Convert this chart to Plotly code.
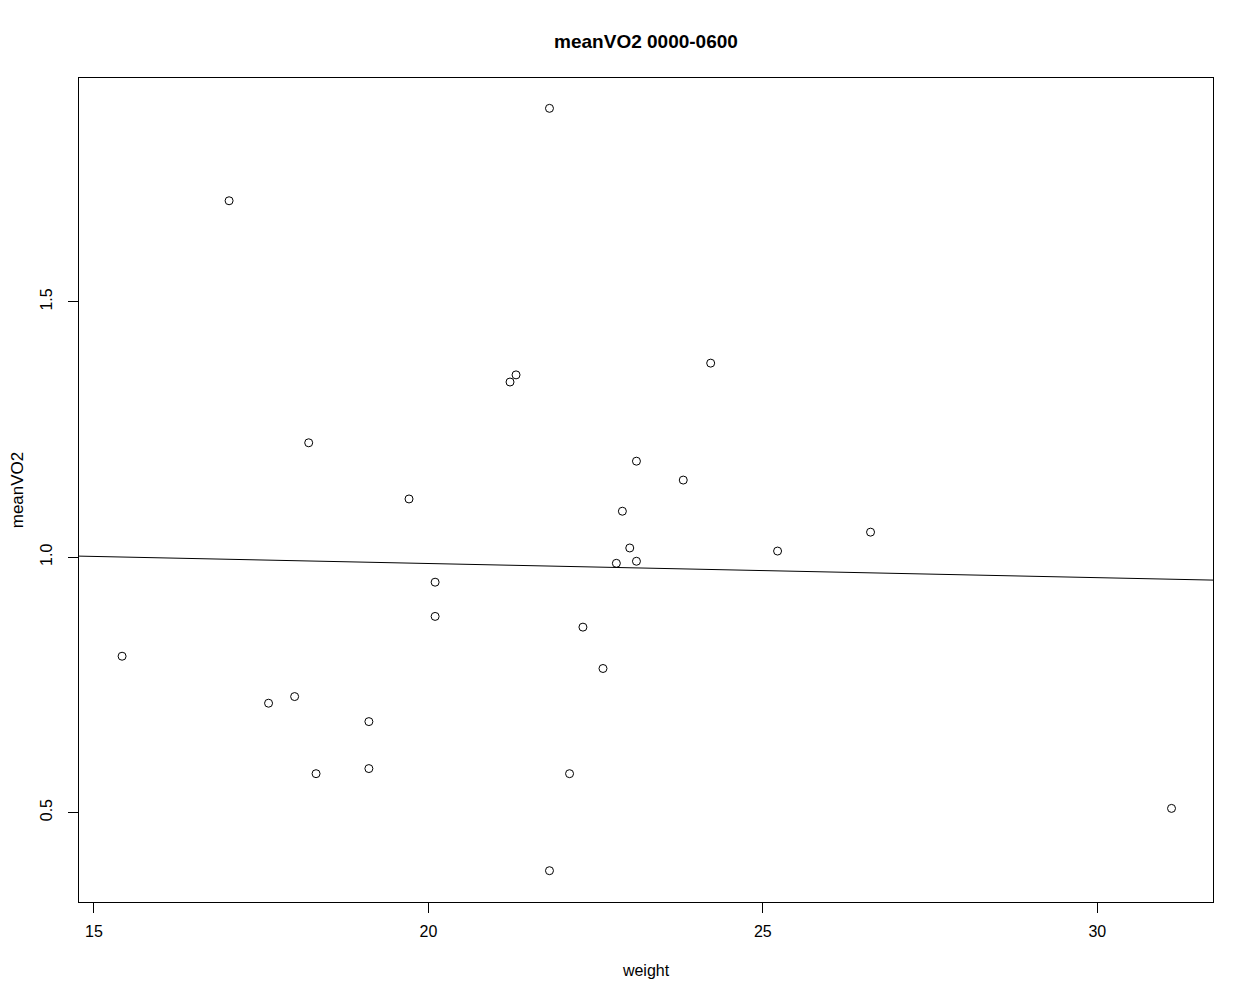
import plotly.graph_objects as go

weight = [15.42, 17.02, 17.61, 18.00, 18.21, 18.32, 19.11, 19.11, 19.71, 20.10,
          20.10, 21.22, 21.31, 21.81, 21.81, 22.11, 22.31, 22.61, 22.81, 22.90,
          23.01, 23.11, 23.11, 23.81, 24.22, 25.22, 26.61, 31.11]
meanVO2 = [0.806, 1.698, 0.714, 0.727, 1.224, 0.576, 0.678, 0.586, 1.114, 0.951,
           0.884, 1.343, 1.357, 1.879, 0.386, 0.576, 0.863, 0.782, 0.988, 1.090,
           1.018, 1.188, 0.992, 1.151, 1.380, 1.012, 1.049, 0.508]
fit_coef = [1.043, -0.00277]  # intercept, slope
x_ticks = [15, 20, 25, 30]
y_ticks = [0.5, 1.0, 1.5]

xr = [14.776, 31.73]
yr = [0.3247, 1.9384]

W, H = 1246, 992

fig = go.Figure()
fig.add_trace(go.Scatter(
    x=weight, y=meanVO2, mode="markers",
    marker=dict(symbol="circle-open", size=8, color="black", line=dict(width=1)),
    showlegend=False, hoverinfo="x+y"))
fig.add_trace(go.Scatter(
    x=xr, y=[fit_coef[0] + fit_coef[1] * v for v in xr], mode="lines",
    line=dict(color="black", width=1), showlegend=False, hoverinfo="skip"))

font = "Liberation Sans, Arial"
axis_common = dict(showgrid=False, zeroline=False, showline=True, mirror=True,
                   linecolor="black", linewidth=1, ticks="outside", ticklen=10,
                   tickcolor="black", tickwidth=1, automargin=False,
                   tickfont=dict(family=font, size=16, color="black"))

fig.update_layout(
    width=W, height=H,
    paper_bgcolor="white", plot_bgcolor="white",
    margin=dict(l=71, r=41, t=70, b=98),
    title=dict(text="<b>meanVO2 0000-0600</b>", xref="paper", x=0.5, xanchor="center",
               y=1 - 33 / H, yanchor="middle",
               font=dict(family=font, size=19, color="black")),
    xaxis=dict(range=xr, tickvals=x_ticks, ticktext=[str(v) for v in x_ticks],
               ticklabelstandoff=5,
               title=dict(text="weight", standoff=25,
                          font=dict(family=font, size=16, color="black")),
               **axis_common),
    yaxis=dict(range=yr, tickvals=y_ticks, ticktext=["0.5", "1.0", "1.5"], tickangle=-90,
               ticklabelstandoff=10,
               title=dict(text="meanVO2", standoff=12,
                          font=dict(family=font, size=17, color="black")),
               **axis_common),
)

fig.write_html("out.html")
